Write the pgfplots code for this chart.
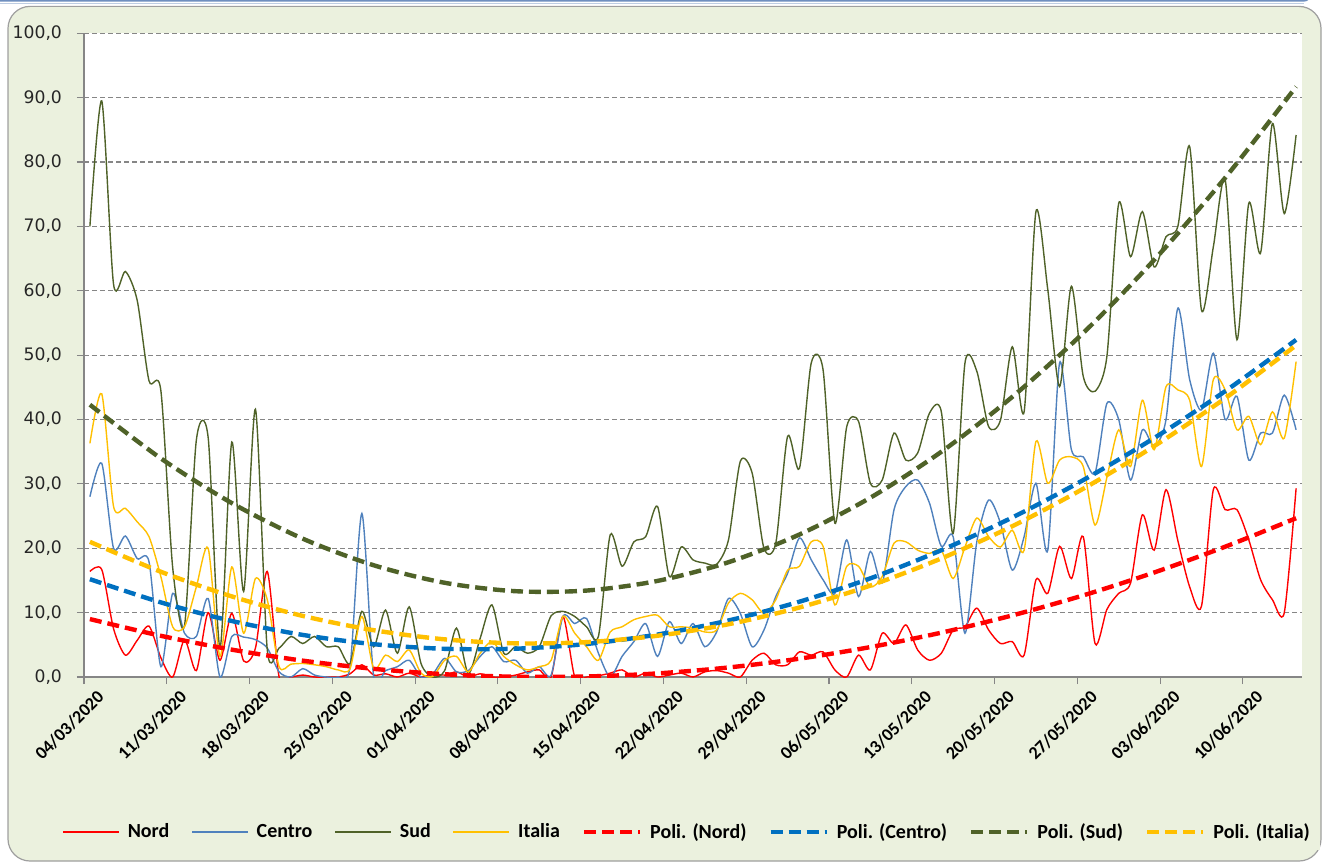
\documentclass[border=0pt]{standalone}
\usepackage{fontspec}
\setmainfont{Carlito}
\newfontfamily\dejavu{DejaVu Sans}
\usepackage{pgfplots}
\pgfplotsset{compat=1.18}
\usepackage{pgfplotstable}

\definecolor{bgc}{HTML}{EBF1DE}
\definecolor{nord}{HTML}{FF0000}
\definecolor{centro}{HTML}{4F81BD}
\definecolor{sud}{HTML}{4F6228}
\definecolor{italia}{HTML}{FFC000}
\definecolor{pcentro}{HTML}{0070C0}
\definecolor{gridc}{HTML}{868686}
\definecolor{framec}{HTML}{6F8FBF}

\pgfplotstableread{
d nord centro sud italia
0 16.4 28.0 70.0 36.3
1 16.7 33.2 89.5 44.0
2 7.5 20.0 61.0 26.5
3 3.4 21.9 63.0 26.2
4 5.7 18.4 58.5 24.1
5 7.9 17.9 46.0 21.8
6 3.0 1.6 44.5 15.6
7 0.0 13.0 17.0 7.8
8 5.8 6.8 8.0 7.8
9 1.0 6.3 36.8 14.0
10 10.0 12.2 37.2 20.0
11 2.6 0.0 4.5 3.2
12 9.9 6.3 36.5 17.1
13 2.5 6.2 13.3 6.8
14 4.5 5.8 41.6 15.3
15 16.4 4.5 4.2 12.0
16 0.0 0.8 4.5 1.6
17 0.0 0.0 6.3 2.0
18 0.3 1.3 5.2 2.1
19 0.0 0.3 6.3 1.9
20 0.0 0.0 4.7 1.6
21 0.0 0.0 4.7 1.1
22 0.5 1.6 2.1 1.3
23 1.9 25.4 10.2 9.4
24 0.3 0.0 4.7 1.3
25 0.5 1.0 10.4 3.4
26 0.0 1.6 3.7 2.4
27 0.6 2.6 10.9 4.2
28 0.0 0.0 2.1 0.6
29 0.5 0.5 0.0 0.1
30 0.3 2.9 1.0 2.6
31 0.8 0.8 7.6 3.2
32 0.0 1.0 0.5 0.8
33 0.5 3.2 6.0 3.7
34 0.0 4.7 11.2 5.5
35 0.0 2.4 3.7 3.2
36 0.3 2.6 4.7 1.9
37 0.8 0.6 3.7 1.1
38 1.1 1.6 4.7 1.6
39 0.0 0.3 9.5 2.6
40 9.4 9.4 10.2 9.4
41 0.0 8.3 9.4 6.8
42 0.0 9.1 7.8 4.7
43 0.2 3.7 6.3 2.6
44 0.6 0.0 22.1 7.0
45 1.1 3.2 17.2 7.8
46 0.0 5.5 21.0 8.9
47 0.6 8.3 21.8 9.4
48 0.0 3.2 26.5 9.6
49 0.3 8.6 15.6 7.8
50 0.6 5.2 20.2 7.8
51 0.0 8.3 18.2 7.6
52 0.8 4.7 17.7 7.0
53 1.0 7.0 17.5 7.3
54 0.6 12.2 21.3 11.5
55 0.0 9.9 33.5 13.0
56 2.6 4.7 31.7 12.0
57 3.7 7.3 20.0 9.9
58 1.9 12.5 20.8 12.0
59 1.9 16.1 37.4 16.6
60 3.9 21.6 32.4 17.2
61 3.4 18.2 48.8 21.0
62 3.9 15.1 47.7 20.3
63 1.1 13.0 23.9 11.2
64 0.0 21.3 38.9 17.2
65 3.4 12.5 39.7 17.2
66 1.1 19.5 30.1 14.0
67 6.8 14.6 30.6 15.6
68 5.2 26.0 37.9 20.8
69 8.1 29.6 33.7 21.0
70 4.2 30.6 34.8 19.7
71 2.6 27.0 41.0 19.2
72 3.7 20.3 41.2 19.7
73 7.3 21.8 22.3 15.3
74 7.8 6.8 48.8 20.2
75 10.7 21.0 47.5 24.7
76 7.3 27.5 38.9 21.8
77 5.2 23.9 39.9 20.2
78 5.5 16.6 51.3 22.8
79 3.4 21.8 41.2 19.7
80 15.1 30.1 72.3 36.6
81 13.0 19.7 60.2 30.1
82 20.3 48.8 45.1 33.7
83 15.3 35.3 60.7 34.2
84 21.8 34.2 46.7 32.7
85 5.2 31.7 44.4 23.6
86 10.5 42.5 49.8 31.0
87 13.0 40.0 73.6 38.4
88 14.6 30.6 65.3 32.7
89 25.2 38.4 72.3 43.0
90 19.7 35.8 63.7 35.3
91 29.1 40.0 68.4 45.1
92 21.2 57.3 70.0 44.6
93 14.0 46.2 82.4 43.0
94 11.0 41.5 57.0 32.7
95 29.1 50.3 66.8 46.2
96 26.0 40.0 77.3 44.6
97 26.0 43.6 52.4 38.4
98 21.3 33.7 73.6 40.5
99 15.1 37.9 65.9 36.1
100 12.0 37.9 86.0 41.2
101 10.0 43.8 72.0 37.1
102 29.3 38.4 84.2 49.0
}\data

\pgfplotstableread{
d pn pc ps pi
0 9.00 15.20 42.30 21.00
6 6.40 11.59 33.96 16.35
12 4.25 8.70 27.02 12.52
18 2.54 6.54 21.49 9.49
24 1.27 5.10 17.36 7.27
30 0.43 4.38 14.64 5.85
36 0.04 4.40 13.33 5.23
42 0.08 5.13 13.43 5.42
48 0.56 6.60 14.93 6.41
54 1.48 8.78 17.83 8.20
60 2.85 11.70 22.14 10.80
66 4.65 15.33 27.86 14.21
72 6.89 19.70 34.99 18.42
78 9.57 24.78 43.52 23.43
84 12.68 30.59 53.45 29.25
90 16.24 37.13 64.80 35.87
96 20.24 44.40 77.55 43.30
102 24.67 52.38 91.70 51.53
}\trend

\begin{document}
\begin{tikzpicture}
\useasboundingbox (0pt,0pt) rectangle (661pt,432pt);
% outer frame remnant at the top
\draw[framec, line width=0.8pt, rounded corners=3pt] (-5pt,440pt) -- (-5pt,431.6pt) -- (655pt,431.6pt) -- (655pt,440pt);
\draw[framec!45, line width=0.5pt] (-5pt,430.2pt) -- (652pt,430.2pt);
% chart area
\draw[draw=gray!75, fill=bgc, line width=0.6pt, rounded corners=11pt] (4pt,1.5pt) rectangle (660.5pt,428.8pt);
\begin{axis}[
  at={(42pt,93.5pt)}, anchor=south west,
  width=609pt, height=321.85pt, scale only axis,
  xmin=-0.5, xmax=102.5, ymin=0, ymax=100,
  axis background/.style={fill=white},
  axis x line*=bottom, axis y line*=left,
  axis line style={gridc, line width=0.6pt, -},
  tick align=outside, major tick length=3.5pt,
  tick style={gridc, line width=0.6pt},
  ytick={0,10,...,100},
  xtick={-0.5,6.5,...,97.5},
  xticklabels={04/03/2020,11/03/2020,18/03/2020,25/03/2020,01/04/2020,08/04/2020,15/04/2020,22/04/2020,29/04/2020,06/05/2020,13/05/2020,20/05/2020,27/05/2020,03/06/2020,10/06/2020},
  ymajorgrids,
  major grid style={gridc, line width=0.55pt, dash pattern=on 2.4pt off 1.6pt},
  xticklabel style={rotate=45, anchor=east, inner sep=1pt, xshift=3.5pt, yshift=-9.5pt,
     font=\bfseries\fontsize{9}{11}\selectfont, text=black},
  yticklabel style={font=\dejavu\fontsize{8.6}{10}\selectfont, text=black!85, xshift=-4pt,
     /pgf/number format/.cd, fixed, fixed zerofill, precision=1, use comma, assume math mode=true},
  legend style={at={(0.496,-0.241)}, anchor=center, draw=bgc, fill=bgc,
     font=\bfseries\fontsize{10}{12}\selectfont,
     /tikz/every odd column/.append style={column sep=2pt},
     /tikz/every even column/.append style={column sep=9pt}},
  legend columns=8,
  legend image code/.code={\draw[#1] (0pt,0pt) -- (28pt,0pt);},
]
\addplot[draw=nord, line width=0.7pt, smooth, tension=0.45] table[x=d, y=nord] {\data};
\addlegendentry{Nord}
\addplot[draw=centro, line width=0.7pt, smooth, tension=0.45] table[x=d, y=centro] {\data};
\addlegendentry{Centro}
\addplot[draw=sud, line width=0.7pt, smooth, tension=0.45] table[x=d, y=sud] {\data};
\addlegendentry{Sud}
\addplot[draw=italia, line width=0.7pt, smooth, tension=0.45] table[x=d, y=italia] {\data};
\addlegendentry{Italia}
\addplot[draw=nord, line width=2.2pt, dash pattern=on 6pt off 3pt, smooth] table[x=d, y=pn] {\trend};
\addlegendentry{Poli. (Nord)}
\addplot[draw=pcentro, line width=2.2pt, dash pattern=on 6pt off 3pt, smooth] table[x=d, y=pc] {\trend};
\addlegendentry{Poli. (Centro)}
\addplot[draw=sud, line width=2.2pt, dash pattern=on 6pt off 3pt, smooth] table[x=d, y=ps] {\trend};
\addlegendentry{Poli. (Sud)}
\addplot[draw=italia, line width=2.2pt, dash pattern=on 6pt off 3pt, smooth] table[x=d, y=pi] {\trend};
\addlegendentry{Poli. (Italia)}
\end{axis}
\end{tikzpicture}
\end{document}
